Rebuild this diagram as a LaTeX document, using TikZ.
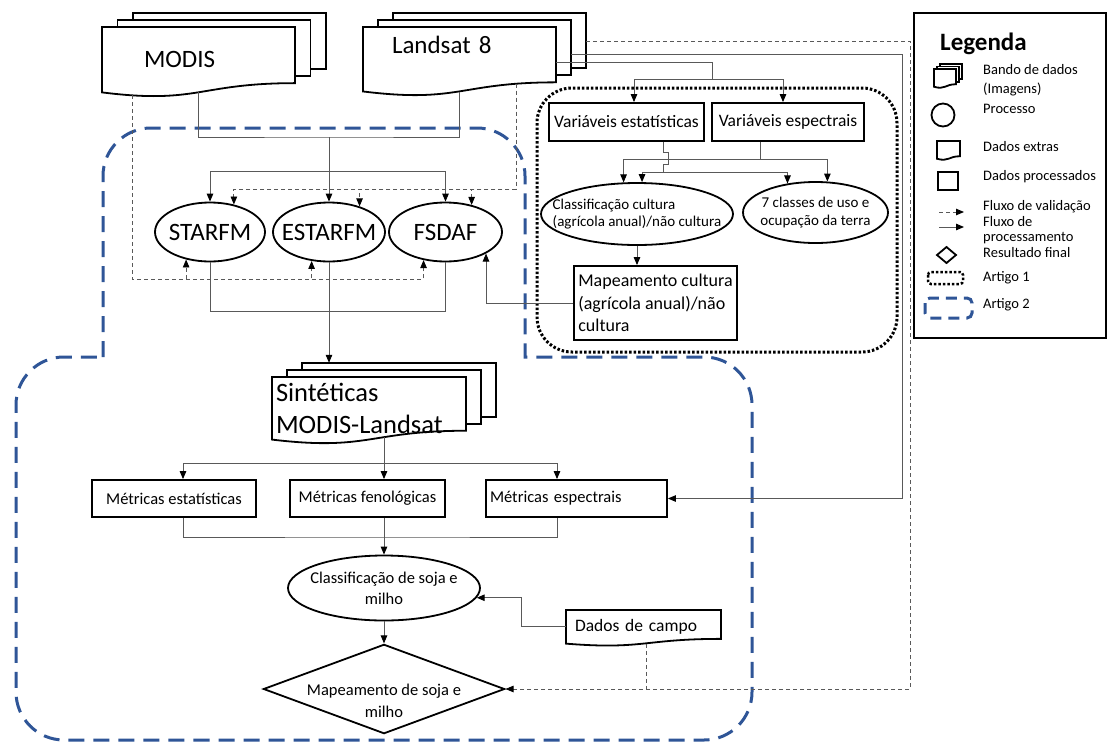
\documentclass[tikz,border=0pt]{standalone}
\usepackage{fontspec}
\setmainfont{Carlito}
\usetikzlibrary{shapes.geometric,arrows.meta,calc}

\definecolor{azulart}{HTML}{2F5597}

\tikzset{
  forma/.style={line width=1.8pt, draw=black},
  linha/.style={line width=1pt, draw=black!65},
  flow/.style={linha, -{Triangle[length=8pt,width=6.5pt,color=black]}},
  valida/.style={line width=0.9pt, draw=black!65, dash pattern=on 4pt off 3pt, -{Triangle[length=8pt,width=6.5pt,color=black]}},
  rotulo/.style={inner sep=0pt, font=\fontsize{25}{30}\selectfont},
  caixa/.style={forma, fill=white, rectangle, inner sep=0pt, minimum height=37pt, font=\fontsize{16.5}{20}\selectfont},
  processo/.style={forma, fill=white, ellipse, inner xsep=-20pt, inner ysep=0pt},
  legtexto/.style={anchor=west, inner sep=0pt, align=left, font=\fontsize{14.5}{19}\selectfont},
  artigoA/.style={line width=3pt, dash pattern=on 2.5pt off 2pt},
  artigoB/.style={line width=3pt, draw=azulart, dash pattern=on 16pt off 9pt}
}

% document shape: x, y, width, height (y grows downwards)
\newcommand{\documento}[4]{%
  \filldraw[forma,fill=white] (#1,#2) -- ({#1+#3},#2) -- ({#1+#3},{#2+0.802*#4})
    .. controls ({#1+0.5*#3},{#2+0.802*#4}) and ({#1+0.5*#3},{#2+1.107*#4}) .. (#1,{#2+0.934*#4}) -- cycle;}
% stacked documents: x, y, width, height, dx, dy
\newcommand{\pilha}[6]{%
  \filldraw[forma,fill=white] ({#1+2*(#5)},{#2+2*(#6)}) rectangle ({#1+#3+2*(#5)},{#2+0.802*#4+2*(#6)});
  \filldraw[forma,fill=white] ({#1+#5},{#2+#6}) rectangle ({#1+#3+#5},{#2+0.802*#4+#6});
  \documento{#1}{#2}{#3}{#4}}

\begin{document}
\begin{tikzpicture}[x=1pt,y=-1pt]
\path[use as bounding box, fill=white] (0,0) rectangle (1108,742);

% Artigo 1 / Artigo 2
\draw[artigoA, rounded corners=35pt] (537,88) rectangle (897,352);
\draw[artigoB] (103,357) -- (103,176) .. controls (103,149.5) and (124.5,128) .. (151,128)
  -- (477,128) .. controls (503.5,128) and (525,149.5) .. (525,176) -- (525,357)
  -- (704,357) .. controls (730.5,357) and (752,378.5) .. (752,405) -- (752,692)
  .. controls (752,718.5) and (730.5,740) .. (704,740) -- (64,740)
  .. controls (37.5,740) and (16,718.5) .. (16,692) -- (16,405)
  .. controls (16,378.5) and (37.5,357) .. (64,357) -- cycle;

% imagens
\pilha{102}{27}{193}{70}{15.5}{-7}
\node[rotulo, minimum width=193pt, minimum height=65pt, text width=109pt, inner xsep=42pt, align=left] (modis) at (198.5,59.5) {MODIS};
\pilha{363}{27}{193}{69}{15}{-7}
\node[rotulo, minimum width=193pt, minimum height=64.4pt, text width=135pt, inner xsep=29pt, align=left, text height=17.5pt, text depth=28.7pt] (landsat) at (459.5,59.2) {Landsat 8};

% fusao
\node[processo, minimum width=110pt, minimum height=59pt, font=\fontsize{25}{30}\selectfont] (starfm) at (210,232) {STARFM};
\node[processo, minimum width=112pt, minimum height=59pt, font=\fontsize{25}{30}\selectfont] (estarfm) at (329,232) {ESTARFM};
\node[processo, minimum width=113pt, minimum height=59pt, font=\fontsize{25}{30}\selectfont] (fsdaf) at (445.5,232) {FSDAF};

% artigo 1
\node[caixa, minimum width=155pt, minimum height=38pt, font=\fontsize{17.5}{21}\selectfont] (varest) at (626.5,122) {Variáveis estatísticas};
\node[caixa, minimum width=152pt, minimum height=38pt, font=\fontsize{17.5}{21}\selectfont] (varesp) at (788,122) {Variáveis espectrais};
\node[processo, minimum width=192pt, minimum height=62pt, align=left, font=\fontsize{15}{17.5}\selectfont] (classc) at (637,214) {Classificação cultura\\(agrícola anual)/não cultura};
\node[processo, minimum width=145pt, minimum height=61pt, align=center, font=\fontsize{15}{17.5}\selectfont] (classes) at (815.5,212.5) {7 classes de uso e\\ocupação da terra};
\node[caixa, minimum width=163pt, minimum height=74pt, align=left, font=\fontsize{18}{22.5}\selectfont] (mapcult) at (655.5,303) {Mapeamento cultura\\(agrícola anual)/não\\cultura};

% artigo 2
\pilha{272}{377}{194}{67}{15}{-7}
\node[rotulo, minimum width=194pt, minimum height=62.6pt, text width=186pt, inner xsep=4pt, align=left, font=\fontsize{26.5}{32}\selectfont] (sint) at (369,408.3) {Sintéticas\\MODIS-Landsat};
\node[caixa, minimum width=164pt] (estat) at (174,498.5) {Métricas estatísticas};
\node[caixa, minimum width=155pt] (fenol) at (367.5,498.5) {Métricas fenológicas};
\node[caixa, minimum width=181pt, text width=173pt, inner xsep=4pt, align=left] (espec) at (576.5,498.5) {Métricas espectrais};
\node[processo, minimum width=192pt, minimum height=65pt, align=center, font=\fontsize{16.5}{21}\selectfont] (soja) at (384,588) {Classificação de soja e\\milho};
\node[forma, fill=white, diamond, aspect=2.7, inner xsep=-32pt, inner ysep=0pt, minimum width=240pt, minimum height=88pt, align=center, text height=56pt, text depth=0pt, font=\fontsize{16.5}{22}\selectfont] (mapa) at (384,689) {Mapeamento de soja e\\milho};
\documento{566}{610}{155}{36}
\node[rotulo, minimum width=155pt, minimum height=33.6pt, text width=137pt, inner xsep=9pt, align=left, font=\fontsize{17.5}{21}\selectfont] (campo) at (643.5,626.8) {Dados de campo};

% processamento
\coordinate (fusao) at (329,137);
\coordinate (ramo) at (329,171);
\draw[linha] (modis.south) |- (fusao) -| (landsat.south);
\draw[flow] (fusao) -- (estarfm.north);
\draw[flow] (ramo) -| (starfm.north);
\draw[flow] (ramo) -| (fsdaf.north);
\draw[linha] (starfm.south) -- ++(0,49) -| (fsdaf.south);
\draw[flow] (estarfm.south) -- ($(estarfm.south |- sint.north)+(0,-14)$);
\draw[flow] (mapcult.west) -| (fsdaf.-28);

\coordinate (distV) at (712,79);
\draw[linha] ([yshift=-3pt]landsat.east) -| (distV);
\draw[flow] (distV) -| ([xshift=7.5pt]varest.north);
\draw[flow] (distV) -| ([xshift=-5pt]varesp.north);
\draw[linha] ([xshift=36.5pt]varest.south) -- ++(0,11) -- ++(5,0) -- ++(0,12) -- ++(-5,0) -- ++(0,8) coordinate (distA);
\draw[linha] ([xshift=-28pt]varesp.south) -- ++(0,18) coordinate (distB);
\draw[flow] (distA) -| (classc.81);
\draw[flow] (distA) -| (classes.134);
\draw[flow] (distB) -| (classc.113);
\draw[flow] (distB) -| (classes.69);
\draw[flow] (classc.south) -- (classc.south |- mapcult.north);

\coordinate (distM) at (384,463);
\coordinate (junta) at (384,537);
\draw[flow] ([xshift=15pt,yshift=3pt]sint.south) -- ([xshift=16.5pt]fenol.north);
\draw[flow] (distM) -| ([xshift=9pt]estat.north);
\draw[flow] (distM) -| ([xshift=-19.5pt]espec.north);
\draw[linha] ([xshift=9pt]estat.south) |- (junta) -| ([xshift=-19.5pt]espec.south);
\draw[flow] ([xshift=16.5pt]fenol.south) -- (soja.north);
\draw[flow] (soja.south) -- (mapa.north);
\draw[flow] (campo.west) -- ++(-44,0) |- (soja.-6);

\coordinate (landsatM) at (571,54);
\draw[flow] (landsatM) -- ++(331,0) |- (espec.east);

% validacao
\coordinate (valL) at (516,189);
\coordinate (valM) at (132,279);
\foreach \no/\ang in {starfm/49, estarfm/40, fsdaf/46}
  \draw[valida] ([xshift=56.5pt,yshift=7.7pt]landsat.south) -- (valL) -| (\no.\ang);
\foreach \no/\ang in {starfm/-131, estarfm/-121, fsdaf/-128}
  \draw[valida] ([xshift=-66.5pt,yshift=-3pt]modis.south) -- (valM) -| (\no.\ang);
\coordinate (landsatO) at (586,41);
\coordinate (cantoO) at (910,689);
\draw[valida] (landsatO) -| (cantoO) -- (mapa.east);
\draw[valida,-] ([xshift=2.5pt]campo.south) -- ([xshift=2.5pt]campo.south |- mapa.east);

% legenda
\draw[forma] (914,13) rectangle (1106,338);
\node[anchor=west, inner sep=0pt, font=\bfseries\fontsize{25}{30}\selectfont] (legenda) at (940,44) {Legenda};
\pilha{934}{69}{22}{19}{3}{-2.5}
\node[legtexto] (lbanco) at (983,80.5) {Bando de dados\\(Imagens)};
\draw[forma] (943,115) circle (11.5pt);
\node[legtexto] (lprocesso) at (983,109) {Processo};
\documento{937}{141}{23}{19}
\node[legtexto] (lextras) at (983,147) {Dados extras};
\draw[forma] (938,172) rectangle (958,190);
\node[legtexto] (lprocessados) at (983,177) {Dados processados};
\draw[valida] (939,212) -- (964,212);
\node[legtexto] (lvalidacao) at (983,207) {Fluxo de validação};
\draw[flow] (939,227) -- (964,227);
\node[legtexto, font=\fontsize{14.5}{15.5}\selectfont] (lfluxo) at (983,230) {Fluxo de\\processamento};
\draw[forma] (937,255) -- (946.5,247) -- (956,255) -- (946.5,263) -- cycle;
\node[legtexto] (lresultado) at (983,253) {Resultado final};
\draw[artigoA, line width=2.5pt, rounded corners=3pt] (928,272) rectangle (963,284);
\node[legtexto] (lartigoA) at (983,278) {Artigo 1};
\draw[artigoB, dash pattern=on 11pt off 7pt, rounded corners=5pt] (925,298) rectangle (972,318);
\node[legtexto] (lartigoB) at (983,305) {Artigo 2};
\end{tikzpicture}
\end{document}
